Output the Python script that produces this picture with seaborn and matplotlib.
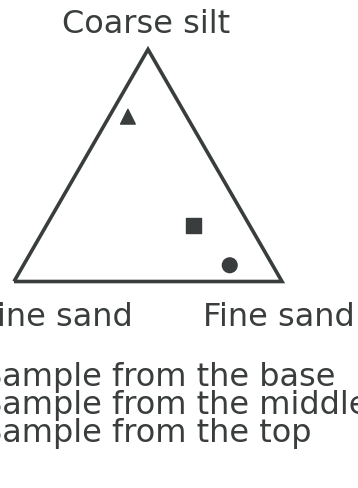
import numpy as np
import pandas as pd
import matplotlib
matplotlib.use("Agg")
import matplotlib.pyplot as plt
import seaborn as sns

# Grain-size composition of the three samples (fractions summing to 1)
samples = ["base", "middle", "top"]
coarse_silt = [0.07, 0.24, 0.71]      # apex component
fine_sand_left = [0.16, 0.21, 0.22]   # lower-left component
fine_sand_right = [0.77, 0.55, 0.07]  # lower-right component

apex_label = "Coarse silt"
left_label = "Fine sand"
right_label = "Fine sand"
legend_labels = ["Sample from the base", "Sample from the middle", "Sample from the top"]
sample_markers = {"base": "o", "middle": "s", "top": "^"}

sns.set_theme(style="white")
plt.rcParams["font.family"] = ["DejaVu Sans"]

INK = "#3a3d3d"
H = np.sqrt(3) / 2

# ternary -> cartesian (left corner at origin, unit base)
a = np.array(coarse_silt)
r = np.array(fine_sand_right)
df = pd.DataFrame({
    "x": r + a / 2,
    "y": a * H,
    "sample": samples,
})

W_PX, H_PX = 358, 488
SCALE = 268.0          # pixels per unit side
X0, Y0 = 14.0, 281.5   # pixel position of the left corner

fig = plt.figure(figsize=(W_PX / 100, H_PX / 100), dpi=100)
ax = fig.add_axes([0, 0, 1, 1])
ax.set_xlim(-X0 / SCALE, (W_PX - X0) / SCALE)
ax.set_ylim(-(H_PX - Y0) / SCALE, Y0 / SCALE)
ax.axis("off")


def px(xp, yp):
    """Figure pixel position -> data coordinates."""
    return (xp - X0) / SCALE, (Y0 - yp) / SCALE


# triangle frame
tri_x = [0, 1, 0.5, 0]
tri_y = [0, 0, H, 0]
ax.plot(tri_x, tri_y, color=INK, lw=2.6, solid_joinstyle="miter",
        solid_capstyle="butt")

sns.scatterplot(data=df, x="x", y="y", style="sample", markers=sample_markers,
                color=INK, s=112, edgecolor=INK, linewidth=1, legend=False,
                ax=ax, zorder=3)

fs = 23
ax.text(*px(146, 33), apex_label, ha="center", va="baseline", fontsize=fs, color=INK)
ax.text(*px(133, 326), left_label, ha="right", va="baseline", fontsize=fs, color=INK)
ax.text(*px(203, 326), right_label, ha="left", va="baseline", fontsize=fs, color=INK)
for i, lab in enumerate(legend_labels):
    ax.text(*px(-18, 386 + 28 * i), lab, ha="left", va="baseline",
            fontsize=fs, color=INK)

fig.savefig("out.png", dpi=100, facecolor="white")
